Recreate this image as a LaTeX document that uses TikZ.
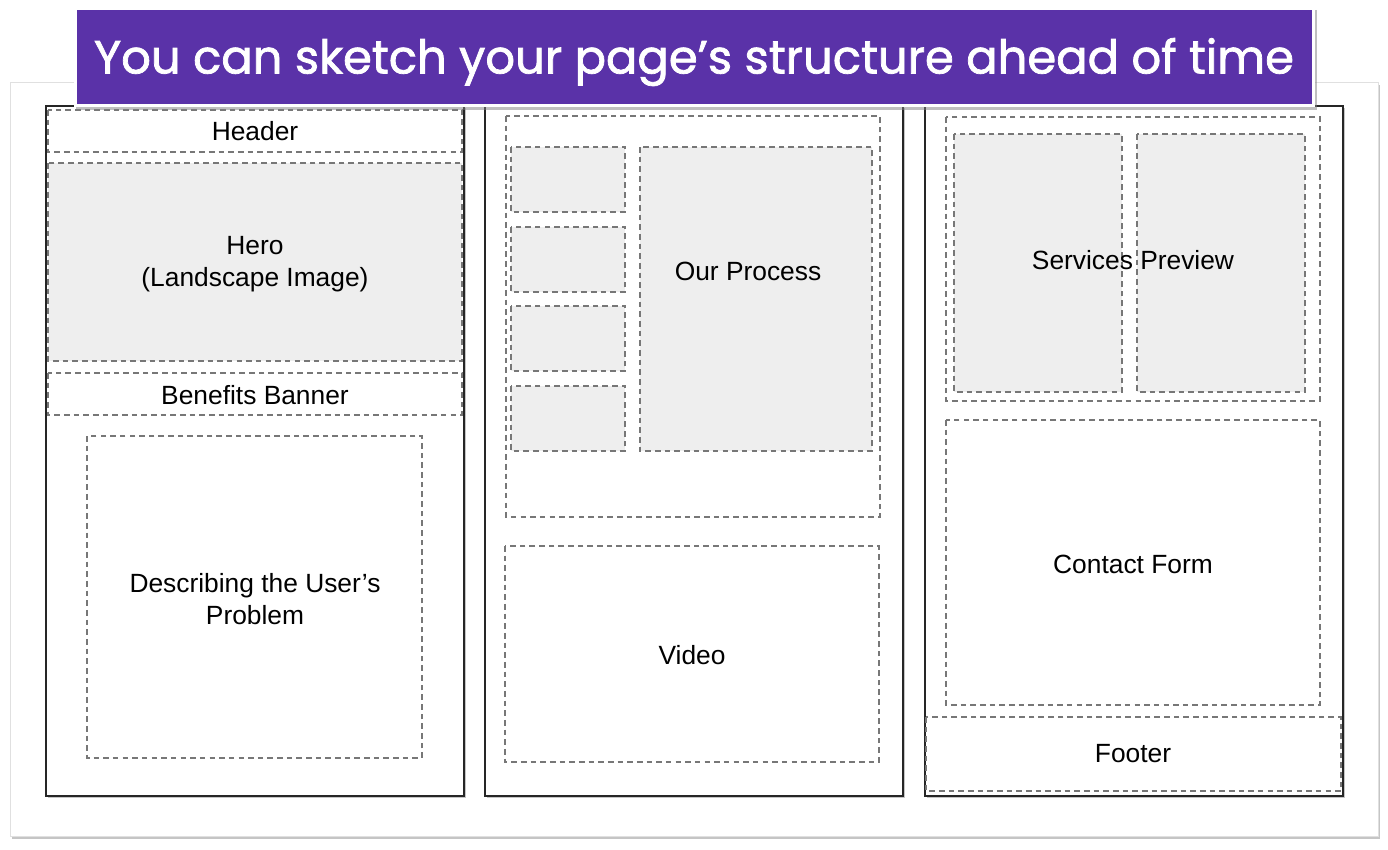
\documentclass[tikz,border=0pt]{standalone}
\usepackage{fontspec}
\setmainfont{Liberation Sans}
\newfontfamily\titlefont{Poppins}[UprightFeatures={FakeBold=1.6}]
\usetikzlibrary{shadows}
\definecolor{bannerpurple}{HTML}{5A32A8}
\definecolor{boxgray}{HTML}{EEEEEE}
\definecolor{dashgray}{HTML}{777777}
\tikzset{
  card/.style={draw=black!12, fill=white, line width=0.5pt,
    drop shadow={shadow xshift=1.2pt, shadow yshift=-1.5pt, fill=black!45, opacity=0.5}},
  panel/.style={draw=black!85, fill=white, line width=0.85pt,
    drop shadow={shadow xshift=0.9pt, shadow yshift=-1.1pt, fill=black!50, opacity=0.45}},
  dbox/.style={draw=dashgray, line width=0.8pt, dash pattern=on 3.2pt off 2.3pt},
  gbox/.style={dbox, fill=boxgray},
  lbl/.style={font=\fontsize{15}{18.1}\selectfont, text=black, align=center},
}
\begin{document}
\begin{tikzpicture}[x=0.02cm,y=-0.02cm]
\useasboundingbox (0,0) rectangle (1388,849);
\fill[white] (0,0) rectangle (1388,849);
% outer card
\path[card] (10,82) rectangle (1378,836);
% panels
\path[panel] (46,106) rectangle (464,796);
\path[panel] (485,106) rectangle (903,796);
\path[panel] (925,106) rectangle (1343,796);
% left panel
\draw[dbox] (48,110) rectangle (462,152);
\node[lbl] (header) at (255,131) {Header};
\draw[gbox] (48,163) rectangle (462,361);
\node[lbl] (hero) at (255,264) {Hero\\(Landscape Image)};
\draw[dbox] (48,373) rectangle (462,415);
\node[lbl] (benefits) at (255,395) {Benefits Banner};
\draw[dbox] (87,436) rectangle (422,758);
\node[lbl] (problem) at (255,599) {Describing the User’s\\Problem};
% middle panel
\draw[dbox] (506,116) rectangle (880,517);
\draw[gbox] (511,147) rectangle (625,212);
\draw[gbox] (511,227) rectangle (625,292);
\draw[gbox] (511,306) rectangle (625,371);
\draw[gbox] (511,386) rectangle (625,451);
\draw[gbox] (640,147) rectangle (872,451);
\node[lbl] (process) at (748,271) {Our Process};
\draw[dbox] (505,546) rectangle (879,762);
\node[lbl] (video) at (692,655) {Video};
% right panel
\draw[dbox] (946,117) rectangle (1320,401);
\draw[gbox] (954,134) rectangle (1122,392);
\draw[gbox] (1137,134) rectangle (1305,392);
\node[lbl] (services) at (1133,260) {Services Preview};
\draw[dbox] (946,420) rectangle (1320,705);
\node[lbl] (contact) at (1133,564) {Contact Form};
\draw[dbox] (926,717) rectangle (1341,791);
\node[lbl] (footer) at (1133,754) {Footer};
% title banner
\path[fill=white, drop shadow={shadow xshift=1pt, shadow yshift=-1.5pt, fill=black!50, opacity=0.5}] (74,7) rectangle (1315,107);
\fill[bannerpurple] (77,10) rectangle (1312,104);
\node[text=white, inner sep=0pt] (title) at (694,62) {\resizebox{24cm}{!}{\titlefont You can sketch your page’s structure ahead of time}};
\end{tikzpicture}
\end{document}
